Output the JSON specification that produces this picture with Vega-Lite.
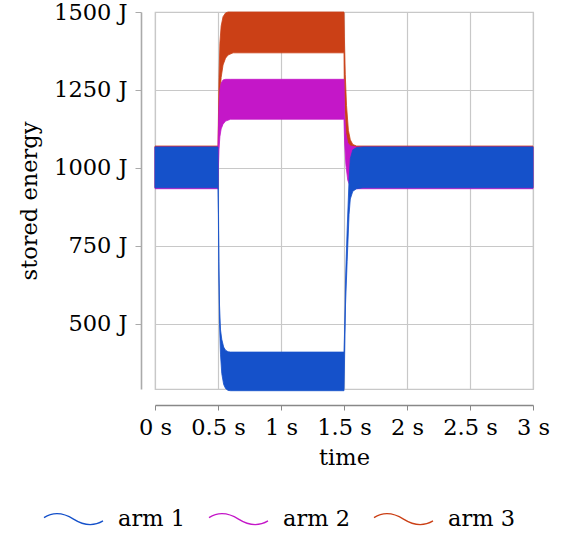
{
  "$schema": "https://vega.github.io/schema/vega-lite/v6.json",
  "width": 378,
  "height": 377,
  "autosize": "none",
  "padding": {"left": 155, "top": 12, "right": 32, "bottom": 144},
  "config": {
    "view": {"stroke": "#c8c8c8", "strokeWidth": 1.2},
    "font": "DejaVu Serif",
    "axis": {"labelFont": "DejaVu Serif", "titleFont": "DejaVu Serif"},
    "legend": {"labelFont": "DejaVu Serif"}
  },
  "data": {
    "values": [
      {"arm": "arm 3", "t": 0, "lo": 936, "hi": 1070},
      {"arm": "arm 3", "t": 0.5, "lo": 936, "hi": 1070},
      {"arm": "arm 3", "t": 0.503, "lo": 1050, "hi": 1150},
      {"arm": "arm 3", "t": 0.508, "lo": 1150, "hi": 1290},
      {"arm": "arm 3", "t": 0.515, "lo": 1230, "hi": 1400},
      {"arm": "arm 3", "t": 0.525, "lo": 1290, "hi": 1455},
      {"arm": "arm 3", "t": 0.54, "lo": 1330, "hi": 1485},
      {"arm": "arm 3", "t": 0.56, "lo": 1352, "hi": 1497},
      {"arm": "arm 3", "t": 0.58, "lo": 1362, "hi": 1500},
      {"arm": "arm 3", "t": 0.62, "lo": 1369, "hi": 1500},
      {"arm": "arm 3", "t": 1.495, "lo": 1369, "hi": 1500},
      {"arm": "arm 3", "t": 1.5, "lo": 1369, "hi": 1500},
      {"arm": "arm 3", "t": 1.503, "lo": 1250, "hi": 1420},
      {"arm": "arm 3", "t": 1.51, "lo": 1150, "hi": 1300},
      {"arm": "arm 3", "t": 1.52, "lo": 1080, "hi": 1200},
      {"arm": "arm 3", "t": 1.535, "lo": 1000, "hi": 1120},
      {"arm": "arm 3", "t": 1.55, "lo": 960, "hi": 1090},
      {"arm": "arm 3", "t": 1.57, "lo": 945, "hi": 1075},
      {"arm": "arm 3", "t": 1.6, "lo": 937, "hi": 1070},
      {"arm": "arm 3", "t": 3, "lo": 936, "hi": 1070},
      {"arm": "arm 2", "t": 0, "lo": 933, "hi": 1067},
      {"arm": "arm 2", "t": 0.5, "lo": 933, "hi": 1067},
      {"arm": "arm 2", "t": 0.503, "lo": 1000, "hi": 1120},
      {"arm": "arm 2", "t": 0.508, "lo": 1060, "hi": 1200},
      {"arm": "arm 2", "t": 0.515, "lo": 1100, "hi": 1250},
      {"arm": "arm 2", "t": 0.525, "lo": 1125, "hi": 1272},
      {"arm": "arm 2", "t": 0.54, "lo": 1140, "hi": 1282},
      {"arm": "arm 2", "t": 0.56, "lo": 1150, "hi": 1284},
      {"arm": "arm 2", "t": 0.6, "lo": 1156, "hi": 1284},
      {"arm": "arm 2", "t": 1.495, "lo": 1156, "hi": 1284},
      {"arm": "arm 2", "t": 1.5, "lo": 1156, "hi": 1284},
      {"arm": "arm 2", "t": 1.505, "lo": 1080, "hi": 1170},
      {"arm": "arm 2", "t": 1.515, "lo": 1010, "hi": 1110},
      {"arm": "arm 2", "t": 1.53, "lo": 960, "hi": 1080},
      {"arm": "arm 2", "t": 1.55, "lo": 940, "hi": 1070},
      {"arm": "arm 2", "t": 1.6, "lo": 933, "hi": 1067},
      {"arm": "arm 2", "t": 3, "lo": 933, "hi": 1067},
      {"arm": "arm 1", "t": 0, "lo": 936, "hi": 1067},
      {"arm": "arm 1", "t": 0.5, "lo": 936, "hi": 1067},
      {"arm": "arm 1", "t": 0.503, "lo": 850, "hi": 900},
      {"arm": "arm 1", "t": 0.507, "lo": 650, "hi": 700},
      {"arm": "arm 1", "t": 0.512, "lo": 500, "hi": 560},
      {"arm": "arm 1", "t": 0.52, "lo": 400, "hi": 480},
      {"arm": "arm 1", "t": 0.53, "lo": 340, "hi": 450},
      {"arm": "arm 1", "t": 0.545, "lo": 305, "hi": 425},
      {"arm": "arm 1", "t": 0.56, "lo": 292, "hi": 415},
      {"arm": "arm 1", "t": 0.58, "lo": 286, "hi": 410},
      {"arm": "arm 1", "t": 0.6, "lo": 285, "hi": 409},
      {"arm": "arm 1", "t": 1.495, "lo": 285, "hi": 409},
      {"arm": "arm 1", "t": 1.5, "lo": 285, "hi": 409},
      {"arm": "arm 1", "t": 1.505, "lo": 400, "hi": 480},
      {"arm": "arm 1", "t": 1.512, "lo": 560, "hi": 640},
      {"arm": "arm 1", "t": 1.525, "lo": 700, "hi": 800},
      {"arm": "arm 1", "t": 1.54, "lo": 850, "hi": 960},
      {"arm": "arm 1", "t": 1.55, "lo": 900, "hi": 1030},
      {"arm": "arm 1", "t": 1.57, "lo": 925, "hi": 1058},
      {"arm": "arm 1", "t": 1.6, "lo": 933, "hi": 1065},
      {"arm": "arm 1", "t": 1.65, "lo": 936, "hi": 1067},
      {"arm": "arm 1", "t": 3, "lo": 936, "hi": 1067}
    ]
  },
  "encoding": {
    "x": {
      "field": "t", "type": "quantitative",
      "scale": {"domain": [0, 3], "nice": false, "zero": false},
      "axis": {
        "title": "time",
        "values": [0, 0.5, 1, 1.5, 2, 2.5, 3],
        "labelExpr": "datum.value + ' s'",
        "offset": 16,
        "tickSize": 5,
        "tickColor": "#888888",
        "domainColor": "#888888",
        "domainWidth": 1.3,
        "gridColor": "#c8c8c8",
        "gridWidth": 1.2,
        "labelFontSize": 22.5,
        "labelColor": "#000000",
        "labelPadding": 6,
        "labelFlush": false,
        "titleFontSize": 22.5,
        "titleFontWeight": "normal",
        "titleColor": "#000000",
        "titlePadding": 8
      }
    },
    "y": {
      "field": "lo", "type": "quantitative",
      "scale": {"domain": [290.5, 1500], "nice": false, "zero": false},
      "axis": {
        "title": "stored energy",
        "values": [500, 750, 1000, 1250, 1500],
        "labelExpr": "datum.value + ' J'",
        "offset": 14,
        "tickSize": 6,
        "tickColor": "#aaaaaa",
        "domainColor": "#aaaaaa",
        "domainWidth": 1.6,
        "gridColor": "#c8c8c8",
        "gridWidth": 1.2,
        "labelFontSize": 22.5,
        "labelColor": "#000000",
        "labelPadding": 8,
        "labelFlush": false,
        "titleFontSize": 22.5,
        "titleFontWeight": "normal",
        "titleColor": "#000000",
        "titlePadding": 12
      }
    }
  },
  "resolve": {"legend": {"stroke": "independent"}},
  "layer": [
    {
      "mark": {"type": "area", "clip": false, "opacity": 1, "strokeWidth": 0.8},
      "encoding": {
        "y2": {"field": "hi"},
        "fill": {
          "field": "arm", "type": "nominal",
          "scale": {"domain": ["arm 1", "arm 2", "arm 3"], "range": ["#1551CA", "#C417C8", "#CB4016"]},
          "legend": null
        },
        "stroke": {
          "field": "arm", "type": "nominal",
          "scale": {"domain": ["arm 1", "arm 2", "arm 3"], "range": ["#1551CA", "#C417C8", "#CB4016"]},
          "legend": null
        }
      }
    },
    {
      "transform": [{"filter": "datum.t < 0"}],
      "mark": {"type": "line", "strokeWidth": 1.3},
      "encoding": {
        "stroke": {
          "field": "arm", "type": "nominal",
          "scale": {"domain": ["arm 1", "arm 2", "arm 3"], "range": ["#1551CA", "#C417C8", "#CB4016"]},
          "legend": {
            "title": null,
            "orient": "none",
            "legendX": -112,
            "legendY": 476,
            "direction": "horizontal",
            "columns": 3,
            "columnPadding": 21,
            "symbolType": "M-1,-0.03 C-0.7,-0.22 -0.35,-0.2 0,0.02 C0.35,0.24 0.7,0.26 1,0.08",
            "symbolSize": 3481,
            "symbolStrokeWidth": 1.3,
            "symbolFillColor": "transparent",
            "labelFontSize": 22.5,
            "labelFont": "DejaVu Serif",
            "labelColor": "#000000",
            "labelOffset": 14
          }
        }
      }
    }
  ]
}
